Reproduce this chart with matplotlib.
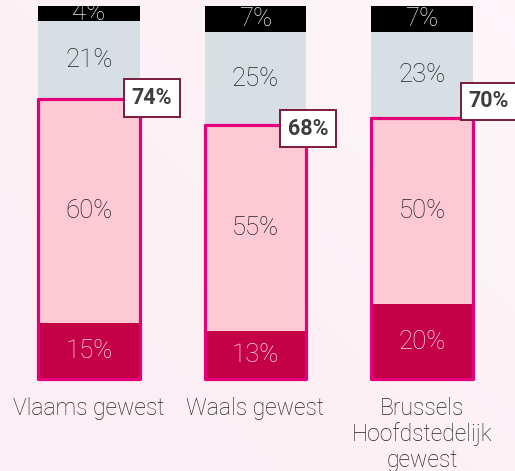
import matplotlib
matplotlib.use("Agg")
import matplotlib.pyplot as plt
from matplotlib.patches import Rectangle
import numpy as np

categories = ["Vlaams gewest", "Waals gewest", "Brussels\nHoofdstedelijk\ngewest"]
seg_dark = [15, 13, 20]
seg_pink = [60, 55, 50]
seg_gray = [21, 25, 23]
seg_black = [4, 7, 7]
totals = ["74%", "68%", "70%"]

# layout offsets for the total labels (data units)
tot_dx = [0.377, 0.315, 0.40]
tot_dy = [0.4, -0.9, 4.4]

W, H = 515, 471
fig = plt.figure(figsize=(W / 100, H / 100), dpi=100)
fig.patch.set_facecolor("#fcf1f5")

# subtle background gradient
bg = fig.add_axes([0, 0, 1, 1], zorder=-5)
yy, xx = np.mgrid[0:1:200j, 0:1:200j]
g = np.clip(0.55 * xx + 0.5 * (1 - yy) - 0.3, 0, 1)
c1 = np.array([0.988, 0.937, 0.957])
c2 = np.array([0.996, 0.975, 0.985])
img = c1[None, None, :] * (1 - g[..., None]) + c2[None, None, :] * g[..., None]
bg.imshow(img, aspect="auto", extent=[0, 1, 0, 1], origin="upper")
bg.axis("off")

ax = fig.add_axes([0, 92 / H, 1, 373 / H])
ax.set_facecolor("none")
x = np.arange(len(categories))
width = 0.607

font = "Roboto"
c_dark = "#c40046"
c_pink = "#fcc9d5"
c_gray = "#d7dee4"
c_black = "#000000"
c_outline = "#e4007c"
txt = "#222222"

ax.bar(x, seg_dark, width, color=c_dark, zorder=2)
bottom2 = np.array(seg_dark)
ax.bar(x, seg_pink, width, bottom=bottom2, color=c_pink, zorder=2)
bottom3 = bottom2 + np.array(seg_pink)
ax.bar(x, seg_gray, width, bottom=bottom3, color=c_gray, zorder=2)
bottom4 = bottom3 + np.array(seg_gray)
ax.bar(x, seg_black, width, bottom=bottom4, color=c_black, zorder=2)

# outlines around the pink + dark segments
for i in range(len(x)):
    ax.add_patch(Rectangle((x[i] - width / 2, 0), width, bottom3[i],
                           fill=False, ec=c_outline, lw=2.3, zorder=3,
                           joinstyle="round", clip_on=False))

def seg_labels(vals, bottoms, color):
    for i, v in enumerate(vals):
        ax.text(x[i], bottoms[i] + v / 2, f"{v}%", ha="center", va="center",
                fontsize=18.5, color=color, family=font, fontweight="light",
                zorder=4, clip_on=True)

seg_labels(seg_dark, np.zeros(3), "#fbe3eb")
seg_labels(seg_pink, bottom2, txt)
seg_labels(seg_gray, bottom3, txt)
seg_labels(seg_black, bottom4, "#eeeeee")

for i in range(len(x)):
    ax.text(x[i] + tot_dx[i], bottom3[i] + tot_dy[i], totals[i], ha="center",
            va="center", fontsize=15.5, fontweight="bold", color="#3d3d3d",
            family=font, zorder=5, clip_on=False,
            bbox=dict(boxstyle="square,pad=0.36", fc="white", ec="#7a1a3c", lw=1.4))

ax.set_xlim(-89 / 166.5, (W - 89) / 166.5)
ax.set_ylim(0, 100)
ax.set_xticks(x)
ax.set_xticklabels(categories, fontsize=16.5, family=font, fontweight="light",
                   color=txt, linespacing=1.13)
ax.tick_params(axis="x", length=0, pad=13)
ax.set_yticks([])
for s in ax.spines.values():
    s.set_visible(False)

fig.savefig("out.png", dpi=100, facecolor=fig.get_facecolor())
